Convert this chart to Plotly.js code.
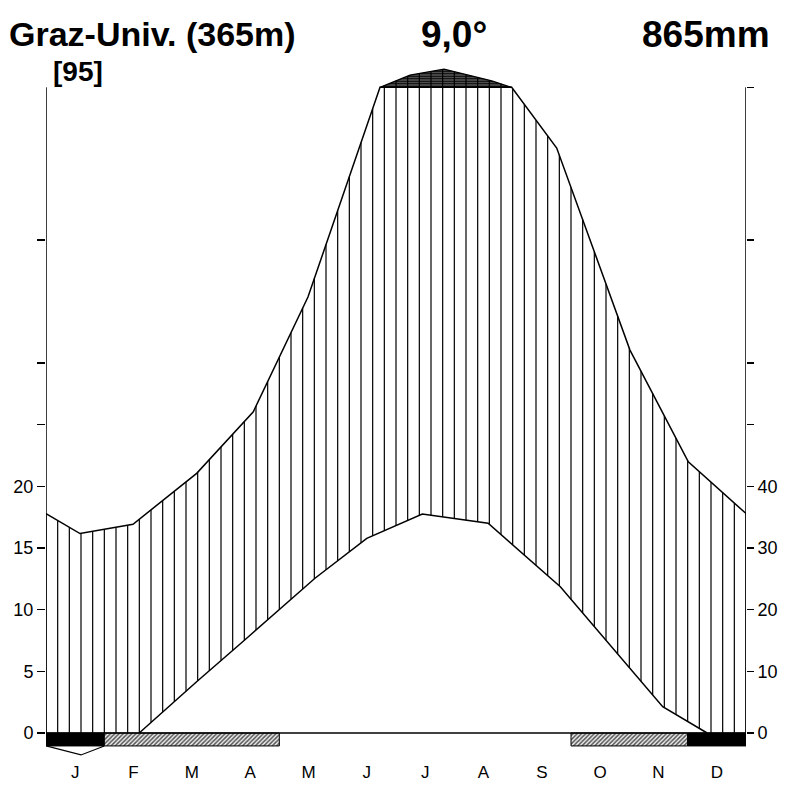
<!DOCTYPE html>
<html><head><meta charset="utf-8">
<script src="https://cdn.plot.ly/plotly-3.0.1.min.js"></script>
<style>html,body{margin:0;padding:0;background:#fff}#chart{width:787px;height:786px}</style>
</head><body><div id="chart"></div>
<script>
// ---------- data ----------
const months = ['J','F','M','A','M','J','J','A','S','O','N','D'];
// precipitation curve on the diagram scale (°C-equivalent), x in months from 1 Jan
const precipX = [0, 0.583, 1.491, 2.583, 3.554, 4.491, 5.726, 7.983, 8.755, 10.011, 11.011, 12];
const precipY = [17.8, 16.18, 16.93, 21.06, 26.06, 35.36, 52.37, 52.37, 47.45, 31.06, 22.0, 17.8];
// part above 100 mm (compressed, black)
const capX = [5.726, 6.24, 6.823, 7.641, 7.983];
const capY = [52.37, 53.37, 53.85, 52.9, 52.37];
// temperature curve (part above 0 °C)
const tempX = [1.598, 2.582, 3.406, 4.611, 5.499, 6.451, 7.579, 8.817, 10.572, 11.333];
const tempY = [0, 4.16, 7.54, 12.55, 15.79, 17.76, 17.01, 11.87, 2.13, 0];
// frost: 2 = frost certain (black), 1 = frost possible (hatched), 0 = none
const frost = [2,1,1,1,0,0,0,0,0,1,1,2];
// absolute-minimum marker month (index)
const minMarkerMonth = 0;
const leftTicks = [0,5,10,15,20,25,30,40];
const leftTickText = ['0','5','10','15','20','','',''];
const rightTicks = [0,5,10,15,20,25,30,40,52.37];
const rightTickText = ['0','10','20','30','40','','','',''];
const stationName = 'Graz-Univ. (365m)';
const meanTemp = '9,0°';
const annualPrecip = '865mm';
const yearsLabel = '[95]';
const topValue = 52.37;

// ---------- helpers ----------
function interp(xs, ys, x) {
  if (x < xs[0] - 1e-9 || x > xs[xs.length-1] + 1e-9) return null;
  for (let i = 0; i < xs.length-1; i++) {
    if (x >= xs[i] - 1e-9 && x <= xs[i+1] + 1e-9) {
      const d = xs[i+1]-xs[i];
      const t = d ? (x-xs[i])/d : 0;
      return ys[i] + t*(ys[i+1]-ys[i]);
    }
  }
  return null;
}
const traces = [];

// cap (above 100 mm)
traces.push({x: capX.concat([capX[0]]), y: capY.concat([capY[0]]), mode:'lines', fill:'toself',
  fillcolor:'black', fillpattern:{shape:'-', size:2.5, solidity:0.8, fgcolor:'black', bgcolor:'white'},
  line:{color:'black', width:1.3}, hoverinfo:'skip', showlegend:false});

// vertical hatching (humid period)
const hx = [], hy = [];
for (let k = 0; k <= 60; k++) {
  const x = k/5;
  const tv = interp(tempX, tempY, x);
  const lo = tv === null ? 0 : Math.max(0, tv);
  let hi = interp(capX, capY, x);
  if (hi === null) hi = interp(precipX, precipY, x);
  hx.push(x, x, null); hy.push(lo, hi, null);
}
traces.push({x: hx, y: hy, mode:'lines', line:{color:'black', width:1.2}, hoverinfo:'skip', showlegend:false});

// curves
traces.push({x: precipX, y: precipY, mode:'lines', line:{color:'black', width:1.5}, hoverinfo:'skip', showlegend:false});
traces.push({x: tempX, y: tempY, mode:'lines', line:{color:'black', width:1.5}, hoverinfo:'skip', showlegend:false});

// frost bars
const barDepth = -1.05;
let i = 0;
while (i < 12) {
  const f = frost[i];
  let j = i;
  while (j < 12 && frost[j] === f) j++;
  if (f > 0) {
    const tr = {x:[i, j, j, i, i], y:[0, 0, barDepth, barDepth, 0], mode:'lines', fill:'toself',
      line:{color:'black', width:1}, hoverinfo:'skip', showlegend:false};
    if (f === 2) tr.fillcolor = 'black';
    else { tr.fillcolor = '#999'; tr.fillpattern = {shape:'/', size:3, solidity:0.5, fgcolor:'#555', bgcolor:'#eee'}; }
    traces.push(tr);
  }
  i = j;
}
// minimum marker (triangle below the bar)
traces.push({x:[minMarkerMonth, minMarkerMonth+0.6, minMarkerMonth+1], y:[barDepth, -1.78, barDepth],
  mode:'lines', line:{color:'black', width:1.2}, hoverinfo:'skip', showlegend:false});

// right axis dummy trace
traces.push({x:[0], y:[0], yaxis:'y2', mode:'markers', marker:{opacity:0}, hoverinfo:'skip', showlegend:false});

const yr = [-2.19, 54.59];
const tickFont = {family:'Liberation Sans, Arial, sans-serif', size:18, color:'black'};
const px2x = p => (p-46)/700, px2y = p => (760-p)/700;
const bold = s => ({family:'Liberation Sans, Arial, sans-serif', size:s, color:'black', weight:'bold'});

const layout = {
  width:787, height:786, margin:{l:46, r:41, t:60, b:26},
  paper_bgcolor:'white', plot_bgcolor:'white', showlegend:false,
  xaxis:{range:[0,12], tickvals:months.map((m,k)=>k+0.5), ticktext:months, showgrid:false, zeroline:false,
    showline:false, ticks:'',
    tickfont:{family:'Liberation Sans, Arial, sans-serif', size:17, color:'black'}, fixedrange:true},
  yaxis:{range:yr, tickvals:leftTicks, ticktext:leftTickText, showgrid:false, zeroline:false, showline:false,
    ticks:'outside', ticklen:8, tickwidth:1.3, tickcolor:'black', tickfont:tickFont},
  yaxis2:{range:yr, overlaying:'y', side:'right', tickvals:rightTicks, ticktext:rightTickText, showgrid:false,
    zeroline:false, showline:false, ticks:'outside', ticklen:7, tickwidth:1.3, tickcolor:'black', tickfont:tickFont},
  shapes:[
    {type:'line', xref:'x', yref:'y', x0:0, x1:0, y0:0, y1:topValue, line:{color:'black', width:1.5}},
    {type:'line', xref:'x', yref:'y', x0:12, x1:12, y0:0, y1:topValue, line:{color:'black', width:1.5}},
    {type:'line', xref:'x', yref:'y', x0:0, x1:12, y0:0, y1:0, line:{color:'black', width:1.3}}
  ],
  annotations:[
    {text:stationName, xref:'paper', yref:'paper', x:px2x(7), y:px2y(34), xanchor:'left', yanchor:'middle', showarrow:false, font:bold(34)},
    {text:meanTemp, xref:'paper', yref:'paper', x:px2x(454), y:px2y(34), xanchor:'center', yanchor:'middle', showarrow:false, font:bold(37)},
    {text:annualPrecip, xref:'paper', yref:'paper', x:px2x(772), y:px2y(34), xanchor:'right', yanchor:'middle', showarrow:false, font:bold(37)},
    {text:yearsLabel, xref:'paper', yref:'paper', x:px2x(51), y:px2y(72), xanchor:'left', yanchor:'middle', showarrow:false, font:bold(28)}
  ]
};
Plotly.newPlot('chart', traces, layout, {staticPlot:true, displayModeBar:false});
</script></body></html>
